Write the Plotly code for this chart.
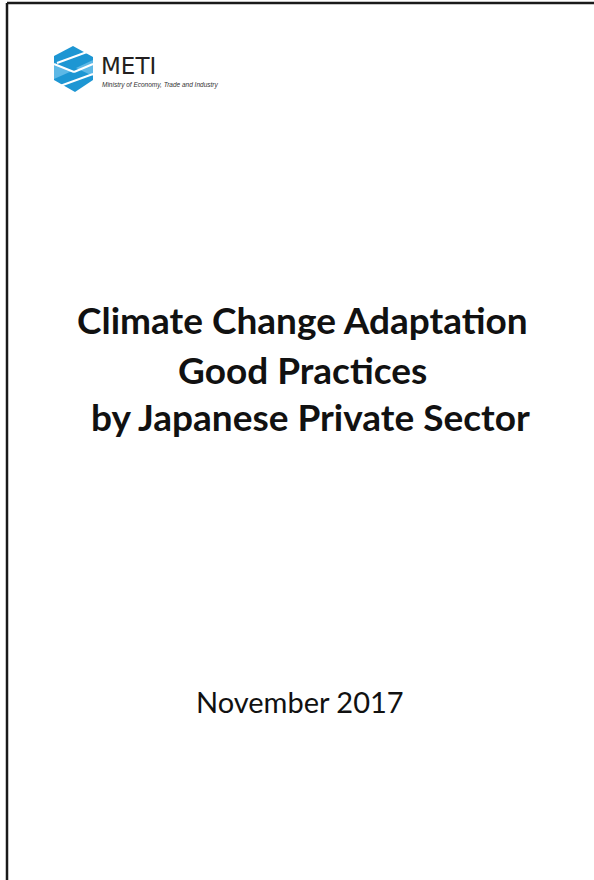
import plotly.graph_objects as go

# ---- content ----
title_lines = ["Climate Change Adaptation", "Good Practices", " by Japanese Private Sector"]
title_y = [319, 369, 416]
title_x = [302, 302, 306]
date_text = "November 2017"
logo_name = "METI"
logo_sub = "Ministry of Economy, Trade and Industry"

W, H = 594, 880
fig = go.Figure()
fig.add_trace(go.Scatter(x=[0, W], y=[0, H], mode="markers", marker=dict(opacity=0), hoverinfo="skip", showlegend=False))

shapes = []
# page border (top + left)
shapes.append(dict(type="line", xref="x", yref="y", x0=7, y0=3, x1=W, y1=3, line=dict(color="#1a1a1a", width=2.5)))
shapes.append(dict(type="line", xref="x", yref="y", x0=7, y0=3, x1=7, y1=H, line=dict(color="#1a1a1a", width=2.5)))

# logo: hexagon with S cut
blue = "#1d96d3"
light = "#5db8e6"
def path(pts):
    return "M " + " L ".join(f"{x},{y}" for x, y in pts) + " Z"
shapes.append(dict(type="path", xref="x", yref="y", path=path([(54, 56), (73, 46), (93, 57), (93, 80), (75, 92), (54, 80)]),
                   fillcolor=blue, line=dict(width=0)))
shapes.append(dict(type="path", xref="x", yref="y", path=path([(54, 64), (54, 79), (72, 71)]),
                   fillcolor=light, line=dict(width=0)))
shapes.append(dict(type="path", xref="x", yref="y", path=path([(93, 60), (93, 76), (76, 68)]),
                   fillcolor=light, line=dict(width=0)))
for seg in [((57, 63), (87, 52)), ((54, 64), (74, 72)), ((74, 72), (93, 64)), ((60, 86), (93, 74))]:
    (x0, y0), (x1, y1) = seg
    shapes.append(dict(type="line", xref="x", yref="y", x0=x0, y0=y0, x1=x1, y1=y1, line=dict(color="white", width=2)))

annotations = []
for t, x, y in zip(title_lines, title_x, title_y):
    annotations.append(dict(text=f"<b>{t}</b>", x=x, y=y, xref="x", yref="y", xanchor="center", yanchor="middle",
                            showarrow=False, font=dict(family="Lato", size=37, color="#111111")))
annotations.append(dict(text=date_text, x=300, y=701, xref="x", yref="y", xanchor="center", yanchor="middle",
                        showarrow=False, font=dict(family="Lato", size=29, color="#111111")))
annotations.append(dict(text=logo_name, x=99, y=66, xref="x", yref="y", xanchor="left", yanchor="middle",
                        showarrow=False, font=dict(family="DejaVu Sans", size=23, color="#231f20")))
annotations.append(dict(text=f"<i>{logo_sub}</i>", x=100, y=85, xref="x", yref="y", xanchor="left", yanchor="middle",
                        showarrow=False, font=dict(family="Liberation Sans Narrow, Liberation Sans", size=6.5, color="#333333")))

fig.update_layout(
    width=W, height=H, margin=dict(l=0, r=0, t=0, b=0),
    paper_bgcolor="white", plot_bgcolor="white",
    xaxis=dict(range=[0, W], visible=False, fixedrange=True),
    yaxis=dict(range=[H, 0], visible=False, fixedrange=True),
    shapes=shapes, annotations=annotations, showlegend=False,
)
fig.write_html("out.html", config={"displayModeBar": False},
               post_script="document.body.style.margin='0';document.body.style.overflow='hidden';")
